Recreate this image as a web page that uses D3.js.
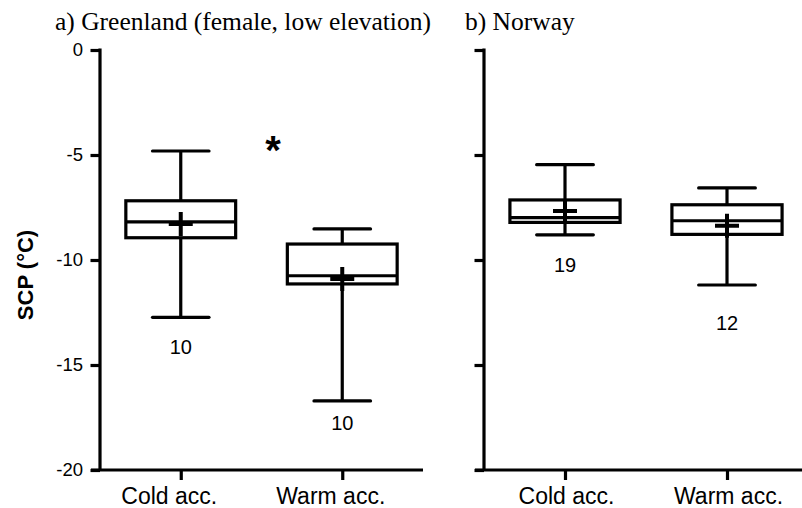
<!DOCTYPE html>
<html>
<head>
<meta charset="utf-8">
<script src="https://cdn.jsdelivr.net/npm/d3@7"></script>
<style>
  html, body { margin: 0; padding: 0; background: #fff; }
  svg { display: block; }
  text { font-family: Arial, "Liberation Sans", sans-serif; fill: #000; }
</style>
</head>
<body>
<svg id="chart" width="802" height="508"></svg>
<script>
// ---- data ----
const categories = ["Cold acc.", "Warm acc."];
const panelTitles = ["a) Greenland (female, low elevation)", "b) Norway"];
const yTicks = [0, -5, -10, -15, -20];

// Greenland (panel a): [Cold, Warm]
const greenlandMin    = [-12.73, -16.71];
const greenlandQ1     = [-8.94, -11.14];
const greenlandMedian = [-8.18, -10.75];
const greenlandQ3     = [-7.18, -9.24];
const greenlandMax    = [-4.81, -8.52];
const greenlandMean   = [-8.29, -10.90];
const greenlandN      = [10, 10];
const greenlandNAt    = [-14.13, -17.76];

// Norway (panel b): [Cold, Warm]
const norwayMin    = [-8.80, -11.19];
const norwayQ1     = [-8.21, -8.78];
const norwayMedian = [-7.98, -8.13];
const norwayQ3     = [-7.14, -7.37];
const norwayMax    = [-5.46, -6.57];
const norwayMean   = [-7.67, -8.37];
const norwayN      = [19, 12];
const norwayNAt    = [-10.24, -13.0];

// significance marker (panel a), placed between the groups
const sigLabel = "*";
const sigAt = -5.43;

// ---- build ----
function rows(mn, q1, md, q3, mx, mean, n, nAt) {
  return categories.map((c, i) => ({
    cat: c, min: mn[i], q1: q1[i], median: md[i], q3: q3[i], max: mx[i],
    mean: mean[i], n: n[i], nAt: nAt[i]
  }));
}
const panels = [
  { title: panelTitles[0], data: rows(greenlandMin, greenlandQ1, greenlandMedian, greenlandQ3, greenlandMax, greenlandMean, greenlandN, greenlandNAt),
    x0: 100, x1: 423, showLabels: true, sig: true, labelShift: -12, titleX: 55 },
  { title: panelTitles[1], data: rows(norwayMin, norwayQ1, norwayMedian, norwayQ3, norwayMax, norwayMean, norwayN, norwayNAt),
    x0: 484, x1: 808, showLabels: false, sig: false, labelShift: 1, titleX: 465 }
];

const svg = d3.select("#chart");
const y = d3.scaleLinear().domain([-20, 0]).range([470, 50]);
const LW = 3.2;

panels.forEach((p) => {
  const g = svg.append("g");
  const x = d3.scalePoint().domain(categories).range([p.x0, p.x1]).padding(0.5);
  const step = x.step();
  const boxW = step * 0.68;
  const capW = step * 0.35;

  // y axis
  const yAxis = d3.axisLeft(y).tickValues(yTicks).tickSize(9.5).tickPadding(7.5)
    .tickFormat(d => String(d));
  const ya = g.append("g").attr("transform", `translate(${p.x0},0)`).call(yAxis);
  ya.select(".domain").attr("d", `M0,${y(0) - 1.6}V${y(-20)}`).attr("stroke-width", LW).attr("stroke", "#000");
  ya.selectAll(".tick line").attr("stroke-width", LW).attr("stroke", "#000");
  ya.selectAll("text").style("font-size", "18.5px").style("font-family", "Arial, 'Liberation Sans', sans-serif").attr("fill", "#000");
  if (!p.showLabels) ya.selectAll("text").remove();

  // x axis
  const xAxis = d3.axisBottom(x).tickSize(10).tickPadding(8);
  const xa = g.append("g").attr("transform", `translate(0,${y(-20)})`).call(xAxis);
  xa.select(".domain").attr("d", `M${p.x0 - 9},0H${p.x1}`).attr("stroke-width", LW).attr("stroke", "#000");
  xa.selectAll(".tick line").attr("stroke-width", LW).attr("stroke", "#000");
  xa.selectAll("text").style("font-size", "23px").style("font-family", "Arial, 'Liberation Sans', sans-serif").attr("fill", "#000")
    .attr("dx", p.labelShift);

  // title
  g.append("text").attr("x", p.titleX).attr("y", 30)
    .style("font-family", "'Liberation Serif', 'Times New Roman', serif").style("font-size", "25.5px")
    .text(p.title);

  // boxes
  const b = g.selectAll(".box").data(p.data).enter().append("g").attr("class", "box");
  // whiskers
  b.append("line").attr("x1", d => x(d.cat)).attr("x2", d => x(d.cat))
    .attr("y1", d => y(d.max)).attr("y2", d => y(d.q3)).attr("stroke", "#000").attr("stroke-width", LW);
  b.append("line").attr("x1", d => x(d.cat)).attr("x2", d => x(d.cat))
    .attr("y1", d => y(d.q1)).attr("y2", d => y(d.min)).attr("stroke", "#000").attr("stroke-width", LW);
  // caps
  b.append("line").attr("x1", d => x(d.cat) - capW / 2).attr("x2", d => x(d.cat) + capW / 2)
    .attr("y1", d => y(d.max)).attr("y2", d => y(d.max)).attr("stroke", "#000").attr("stroke-width", LW).attr("stroke-linecap", "round");
  b.append("line").attr("x1", d => x(d.cat) - capW / 2).attr("x2", d => x(d.cat) + capW / 2)
    .attr("y1", d => y(d.min)).attr("y2", d => y(d.min)).attr("stroke", "#000").attr("stroke-width", LW).attr("stroke-linecap", "round");
  // box
  b.append("rect").attr("x", d => x(d.cat) - boxW / 2).attr("width", boxW)
    .attr("y", d => y(d.q3)).attr("height", d => y(d.q1) - y(d.q3))
    .attr("fill", "#fff").attr("stroke", "#000").attr("stroke-width", LW);
  // median
  b.append("line").attr("x1", d => x(d.cat) - boxW / 2).attr("x2", d => x(d.cat) + boxW / 2)
    .attr("y1", d => y(d.median)).attr("y2", d => y(d.median)).attr("stroke", "#000").attr("stroke-width", LW);
  // mean "+"
  const pm = 12;
  b.append("path").attr("d", d => `M${x(d.cat) - pm},${y(d.mean)}H${x(d.cat) + pm}M${x(d.cat)},${y(d.mean) - pm}V${y(d.mean) + pm}`)
    .attr("stroke", "#000").attr("stroke-width", 4).attr("fill", "none");
  // n labels
  b.append("text").attr("x", d => x(d.cat)).attr("y", d => y(d.nAt)).attr("dy", "0.35em")
    .attr("text-anchor", "middle").style("font-size", "20px").text(d => d.n);

  if (p.sig) {
    const midX = (x(categories[0]) + x(categories[1])) / 2 + 11.5;
    g.append("text").attr("x", midX).attr("y", y(sigAt))
      .attr("text-anchor", "middle").style("font-size", "40px").style("font-weight", "bold").text(sigLabel);
  }
});

// y axis title
svg.append("text").attr("transform", `translate(33,275) rotate(-90)`).attr("text-anchor", "middle")
  .style("font-size", "22px").style("font-weight", "bold").text("SCP (°C)");
</script>
</body>
</html>
